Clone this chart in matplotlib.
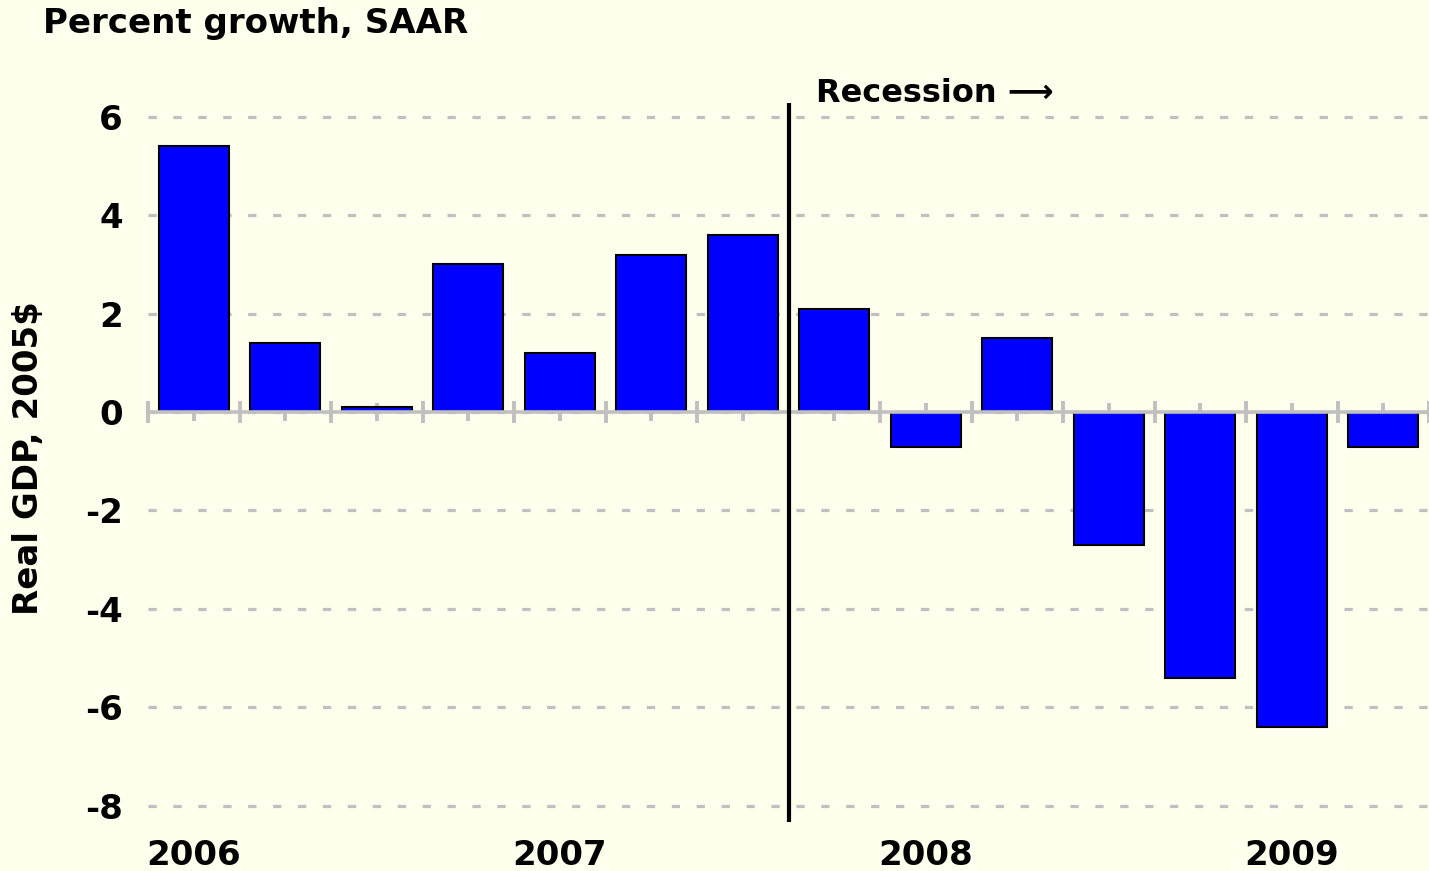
import matplotlib
matplotlib.use("Agg")
import matplotlib.pyplot as plt
import numpy as np

quarters = ["2006Q1", "2006Q2", "2006Q3", "2006Q4",
            "2007Q1", "2007Q2", "2007Q3", "2007Q4",
            "2008Q1", "2008Q2", "2008Q3", "2008Q4",
            "2009Q1", "2009Q2"]
growth = [5.4, 1.4, 0.1, 3.0, 1.2, 3.2, 3.6, 2.1, -0.7, 1.5, -2.7, -5.4, -6.4, -0.7]
year_labels = ["2006", "2007", "2008", "2009"]
year_positions = [0, 4, 8, 12]
yticks = [-8, -6, -4, -2, 0, 2, 4, 6]
recession_start = 6.5  # between 2007Q3 and 2007Q4

BG = "#FFFFEE"
GRAY = "#C0C0C0"
FS = 24.5

plt.rcParams['font.family'] = ['DejaVu Sans']
plt.rcParams['font.weight'] = 'bold'

W, H = 1429, 871
fig = plt.figure(figsize=(W / 100, H / 100), dpi=100, facecolor=BG)
ax = fig.add_axes([148 / W, 1 - 822 / H, 1 - 148 / W, (822 - 103) / H])
ax.set_facecolor(BG)

x = np.arange(len(quarters))
ax.bar(x, growth, width=0.77, color="#0000FF", edgecolor="black", linewidth=1.5, zorder=2)

ax.set_xlim(-0.5, len(quarters) - 0.5)
ax.set_ylim(-8.33, 6.28)

# dashed grid lines
for yt in yticks:
    ax.axhline(yt, color=GRAY, lw=2.3, ls=(0, (2.6, 5.2)), zorder=0.5)

for s in ["top", "right", "left"]:
    ax.spines[s].set_visible(False)
ax.spines["bottom"].set_position(("data", 0))
ax.spines["bottom"].set_color(GRAY)
ax.spines["bottom"].set_linewidth(2.6)
ax.spines["bottom"].set_zorder(2.6)

ax.set_xticks(np.arange(-0.5, len(quarters), 1.0))
ax.set_xticks(x, minor=True)
ax.tick_params(axis="x", which="major", direction="inout", length=16, width=2.8,
               color=GRAY, labelbottom=False)
ax.tick_params(axis="x", which="minor", direction="inout", length=13, width=2.8,
               color=GRAY, labelbottom=False)

ax.set_yticks(yticks)
ax.set_yticklabels([str(v) for v in yticks])
ax.tick_params(axis="y", length=0, pad=18, labelsize=FS)
for lbl in ax.get_yticklabels():
    lbl.set_fontweight("bold")

for pos, lab in zip(year_positions, year_labels):
    ax.annotate(lab, xy=(pos, 0), xycoords=ax.get_xaxis_transform(),
                xytext=(0, -12.5), textcoords="offset points",
                ha="center", va="top", fontsize=FS, fontweight="bold")

ax.axvline(recession_start, color="black", lw=3, zorder=3)
ax.annotate("Recession \u27f6", xy=(recession_start, 1), xycoords=ax.get_xaxis_transform(),
            xytext=(20, 7), textcoords="offset points",
            ha="left", va="center", fontsize=23, fontweight="bold")

fig.text(43 / W, 1 - 23 / H, "Percent growth, SAAR", ha="left", va="center",
         fontsize=FS, fontweight="bold")
fig.text(29 / W, 1 - 458 / H, "Real GDP, 2005$", ha="center", va="center",
         rotation=90, fontsize=FS, fontweight="bold")

fig.savefig("out.png", dpi=100, facecolor=BG)
